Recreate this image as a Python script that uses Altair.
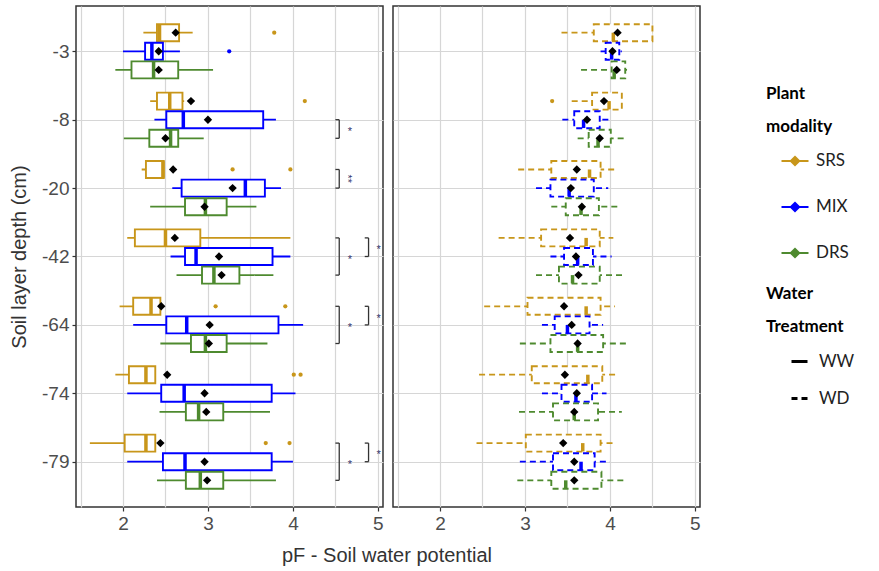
import json
import altair as alt
import pandas as pd

depths = ["-3", "-8", "-20", "-42", "-64", "-74", "-79"]
modalities = ["SRS", "MIX", "DRS"]
mod_colors = ["#C8961A", "#0000FF", "#4E8A2F"]
treatments = ["WW", "WD"]

# Box statistics, depth by depth, SRS / MIX / DRS inside each depth
ww_lo   = [2.24, 2.00, 1.91, 2.32, 2.37, 2.01, 2.22, 2.58, 2.32, 2.05, 2.56, 2.63, 1.96, 2.12, 2.44, 1.91, 2.05, 2.43, 1.61, 2.05, 2.40]
ww_q1   = [2.40, 2.26, 2.10, 2.40, 2.51, 2.31, 2.27, 2.69, 2.73, 2.14, 2.73, 2.93, 2.12, 2.51, 2.80, 2.07, 2.45, 2.74, 2.02, 2.47, 2.74]
ww_med  = [2.43, 2.34, 2.36, 2.55, 2.71, 2.56, 2.47, 3.44, 2.97, 2.50, 2.86, 3.07, 2.33, 2.75, 2.97, 2.27, 2.72, 2.89, 2.27, 2.73, 2.91]
ww_q3   = [2.66, 2.47, 2.65, 2.70, 3.65, 2.65, 2.48, 3.67, 3.22, 2.91, 3.76, 3.37, 2.44, 3.83, 3.22, 2.38, 3.75, 3.18, 2.38, 3.75, 3.18]
ww_hi   = [2.82, 2.67, 3.06, 2.72, 3.80, 2.95, 2.48, 3.86, 3.57, 3.97, 3.97, 3.77, 2.44, 4.12, 3.70, 2.38, 4.03, 3.73, 2.38, 4.00, 3.80]
ww_mean = [2.62, 2.42, 2.42, 2.80, 3.00, 2.50, 2.59, 3.29, 2.96, 2.61, 3.13, 3.16, 2.45, 3.02, 3.01, 2.52, 2.96, 2.98, 2.44, 2.96, 2.99]

wd_lo   = [3.43, 3.89, 3.66, 3.55, 3.44, 3.62, 2.92, 3.13, 3.31, 2.69, 3.30, 3.13, 2.52, 3.20, 2.94, 2.46, 3.20, 2.93, 2.43, 2.94, 2.91]
wd_q1   = [3.81, 3.95, 4.02, 3.79, 3.58, 3.75, 3.31, 3.30, 3.48, 3.19, 3.46, 3.40, 3.03, 3.35, 3.30, 3.08, 3.43, 3.33, 3.01, 3.33, 3.31]
wd_med  = [4.04, 4.02, 4.05, 3.99, 3.69, 3.86, 3.76, 3.52, 3.66, 3.72, 3.62, 3.56, 3.72, 3.50, 3.62, 3.74, 3.60, 3.58, 3.68, 3.66, 3.48]
wd_q3   = [4.50, 4.11, 4.18, 4.14, 3.88, 4.01, 3.89, 3.81, 3.87, 3.88, 3.80, 3.88, 3.89, 3.76, 3.92, 3.91, 3.79, 3.86, 3.89, 3.82, 3.90]
wd_hi   = [4.50, 4.14, 4.24, 4.14, 4.01, 4.19, 4.05, 3.98, 4.12, 4.04, 4.02, 4.18, 4.06, 3.92, 4.21, 4.07, 3.96, 4.14, 4.04, 4.00, 4.20]
wd_mean = [4.09, 4.03, 4.08, 3.93, 3.73, 3.88, 3.61, 3.54, 3.67, 3.53, 3.60, 3.63, 3.46, 3.55, 3.62, 3.47, 3.61, 3.58, 3.45, 3.58, 3.58]

# Outlying points
out_treat = ["WW", "WW", "WW", "WW", "WW", "WW", "WW", "WW", "WW", "WW", "WW", "WD"]
out_depth = ["-3", "-3", "-8", "-20", "-20", "-64", "-64", "-74", "-74", "-79", "-79", "-8"]
out_mod   = ["SRS", "MIX", "SRS", "SRS", "SRS", "SRS", "SRS", "SRS", "SRS", "SRS", "SRS", "SRS"]
out_value = [3.78, 3.25, 4.14, 3.29, 3.97, 3.09, 3.91, 4.01, 4.09, 3.68, 3.96, 3.32]

# Significance brackets (WW panel)
br_depth = ["-8", "-20", "-42", "-42", "-64", "-64", "-79", "-79"]
br_from  = ["MIX", "SRS", "SRS", "SRS", "SRS", "SRS", "SRS", "SRS"]
br_to    = ["DRS", "MIX", "DRS", "MIX", "DRS", "MIX", "DRS", "MIX"]
br_level = [1, 1, 1, 2, 1, 2, 1, 2]
br_label = ["*", "**", "*", "*", "*", "*", "*", "*"]

x_labels = [2, 3, 4, 5]
x_grid = [1.5, 2, 2.5, 3, 3.5, 4, 4.5, 5]

stats = {"WW": (ww_lo, ww_q1, ww_med, ww_q3, ww_hi, ww_mean),
         "WD": (wd_lo, wd_q1, wd_med, wd_q3, wd_hi, wd_mean)}
rows = []
for t in treatments:
    lo, q1, med, q3, hi, mean = stats[t]
    for i, d in enumerate(depths):
        for j, m in enumerate(modalities):
            k = i * 3 + j
            rows.append(dict(treat=t, depth=d, mod=m, lo=lo[k], q1=q1[k], med=med[k],
                             q3=q3[k], hi=hi[k], mean=mean[k]))
box_df = pd.DataFrame(rows)
out_df = pd.DataFrame(dict(treat=out_treat, depth=out_depth, mod=out_mod, value=out_value))
br_df = pd.DataFrame(dict(depth=br_depth, frm=br_from, to=br_to, level=br_level, label=br_label))

DJ = json.dumps(depths)
MJ = json.dumps(modalities)
OFF = 0.272
HALF = 0.122


def pos_expr(mod_field):
    return f"indexof({DJ}, datum.depth) + (indexof({MJ}, {mod_field}) - 1) * {OFF}"


FONT = "Liberation Sans, Arial, sans-serif"
LFONT = "Lato, Open Sans, sans-serif"

x_scale = alt.Scale(domain=[1.447, 5.06], nice=False, zero=False)
y_scale = alt.Scale(domain=[-0.589, 6.589], nice=False, zero=False, reverse=True)
stroke_scale = alt.Scale(domain=modalities, range=mod_colors)
dash_scale = alt.Scale(domain=treatments, range=[[1, 0], [6, 4]])

x_axis = alt.Axis(values=x_grid,
                  labelExpr=f"indexof({json.dumps(x_labels)}, datum.value) >= 0 ? format(datum.value, 'd') : ''",
                  tickOpacity={"condition": {"test": "datum.value % 1 === 0", "value": 1}, "value": 0},
                  title=None, grid=True, gridColor="#d6d6d6", gridWidth=1.2, domain=False,
                  tickSize=4, tickColor="#333", tickWidth=1.2, labelPadding=3, labelFontSize=19,
                  labelColor="#4d4d4d", labelFont=FONT)
y_axis_left = alt.Axis(values=list(range(len(depths))), labelExpr=f"{DJ}[datum.value]",
                       title="Soil layer depth (cm)", titleFontSize=20, titleFont=FONT,
                       titleColor="#333", titleFontWeight="normal", titlePadding=12,
                       labelFontSize=19, labelColor="#4d4d4d", labelFont=FONT, labelPadding=3,
                       tickSize=4, tickColor="#333", tickWidth=1.2, domain=False, grid=True,
                       gridColor="#d6d6d6", gridWidth=1.2)
y_axis_right = alt.Axis(values=list(range(len(depths))), labels=False, ticks=False, title=None,
                        domain=False, grid=True, gridColor="#d6d6d6", gridWidth=1.2)

legend_mod = alt.Legend(title=["Plant", "modality"], orient="none", legendX=690, legendY=80,
                        symbolType="M-1,0H1M0,-0.3L0.3,0L0,0.3L-0.3,0ZM0,-0.15L0.15,0L0,0.15L-0.15,0Z",
                        symbolSize=729, symbolStrokeWidth=2.2, symbolOffset=14, labelOffset=6,
                        titleFont=LFONT, titleFontSize=17, titleFontWeight="bold", titleColor="black",
                        titleLineHeight=33, titlePadding=10, labelFont=LFONT, labelFontSize=17,
                        labelColor="#222", rowPadding=22)
legend_dash = alt.Legend(title=["Water", "Treatment"], orient="none", legendX=690, legendY=280,
                         symbolType="stroke", symbolSize=256, symbolStrokeColor="black",
                         symbolStrokeWidth=3, symbolOffset=24, labelOffset=10,
                         titleFont=LFONT, titleFontSize=17, titleFontWeight="bold", titleColor="black",
                         titleLineHeight=33, titlePadding=16, labelFont=LFONT, labelFontSize=17,
                         labelColor="#222", rowPadding=19)


def panel(treat, left):
    y_axis = y_axis_left if left else y_axis_right

    def X(field):
        return alt.X(field, scale=x_scale, axis=x_axis, title=None)

    def Y(field):
        return alt.Y(field, scale=y_scale, axis=y_axis, title=None if not left else "Soil layer depth (cm)")

    base = alt.Chart(box_df).transform_filter(alt.datum.treat == treat).transform_calculate(
        pos=pos_expr("datum.mod"))

    whisk = base.mark_rule(strokeWidth=1.8).encode(
        x=X("lo:Q"), x2="hi:Q", y=Y("pos:Q"),
        stroke=alt.Stroke("mod:N", scale=stroke_scale, legend=legend_mod),
        strokeDash=alt.StrokeDash("treat:N", scale=dash_scale, legend=legend_dash),
    )
    box = base.mark_bar(orient="horizontal", size=17, fill="white", strokeWidth=1.9).encode(
        x=X("q1:Q"), x2="q3:Q", y=Y("pos:Q"),
        stroke=alt.Stroke("mod:N", scale=stroke_scale, legend=legend_mod),
        strokeDash=alt.StrokeDash("treat:N", scale=dash_scale, legend=None),
    )
    top = f"datum.pos - {HALF}" if treat == "WW" else "datum.pos"
    med = base.transform_calculate(mtop=top, mbot=f"datum.pos + {HALF}").mark_rule(
        strokeWidth=3.5).encode(
        x=X("med:Q"), y=Y("mtop:Q"), y2="mbot:Q",
        stroke=alt.Stroke("mod:N", scale=stroke_scale, legend=None),
    )
    mean = base.mark_point(shape="diamond", filled=True, color="black", size=70, opacity=1).encode(
        x=X("mean:Q"), y=Y("pos:Q"),
    )
    outs = alt.Chart(out_df).transform_filter(alt.datum.treat == treat).transform_calculate(
        pos=pos_expr("datum.mod")).mark_circle(size=18, opacity=1).encode(
        x=X("value:Q"), y=Y("pos:Q"),
        color=alt.Color("mod:N", scale=stroke_scale, legend=None),
    )
    layers = [whisk, box, med, mean, outs]

    if left:
        bb = alt.Chart(br_df).transform_calculate(
            y1=pos_expr("datum.frm"), y2=pos_expr("datum.to"),
            bx="datum.level == 1 ? 4.545 : 4.89",
            sx="datum.level == 1 ? 4.67 : 5.01",
            ang="datum.label == '**' ? 90 : 0",
        ).transform_calculate(ym="(datum.y1 + datum.y2) / 2", bx0="datum.bx - 0.045")
        vert = bb.mark_rule(color="#333", strokeWidth=1.3).encode(
            x=X("bx:Q"), y=Y("y1:Q"), y2="y2:Q")
        cap1 = bb.mark_rule(color="#333", strokeWidth=1.3).encode(
            x=X("bx0:Q"), x2="bx:Q", y=Y("y1:Q"))
        cap2 = bb.mark_rule(color="#333", strokeWidth=1.3).encode(
            x=X("bx0:Q"), x2="bx:Q", y=Y("y2:Q"))
        star = bb.mark_text(fontSize=11, color="#33336b", font=FONT, baseline="middle", dy=3).encode(
            x=X("sx:Q"), y=Y("ym:Q"),
            text="label:N",
            angle=alt.Angle("ang:Q", scale=None),
        )
        layers += [vert, cap1, cap2, star]

    return alt.layer(*layers).properties(width=307, height=501)


chart = alt.hconcat(panel("WW", True), panel("WD", False), spacing=8).resolve_scale(
    stroke="shared", strokeDash="shared", color="shared"
).properties(
    title=alt.TitleParams("pF - Soil water potential", orient="bottom", anchor="start", align="center",
                          frame="group", dx=311, offset=12, fontSize=20, font=FONT,
                          fontWeight="normal", color="#333"),
    padding={"left": 8, "top": 5, "right": 0, "bottom": 0},
).configure_view(stroke="#333", strokeWidth=1.5)

chart.save("out.html", embed_options={"renderer": "svg", "actions": False})
